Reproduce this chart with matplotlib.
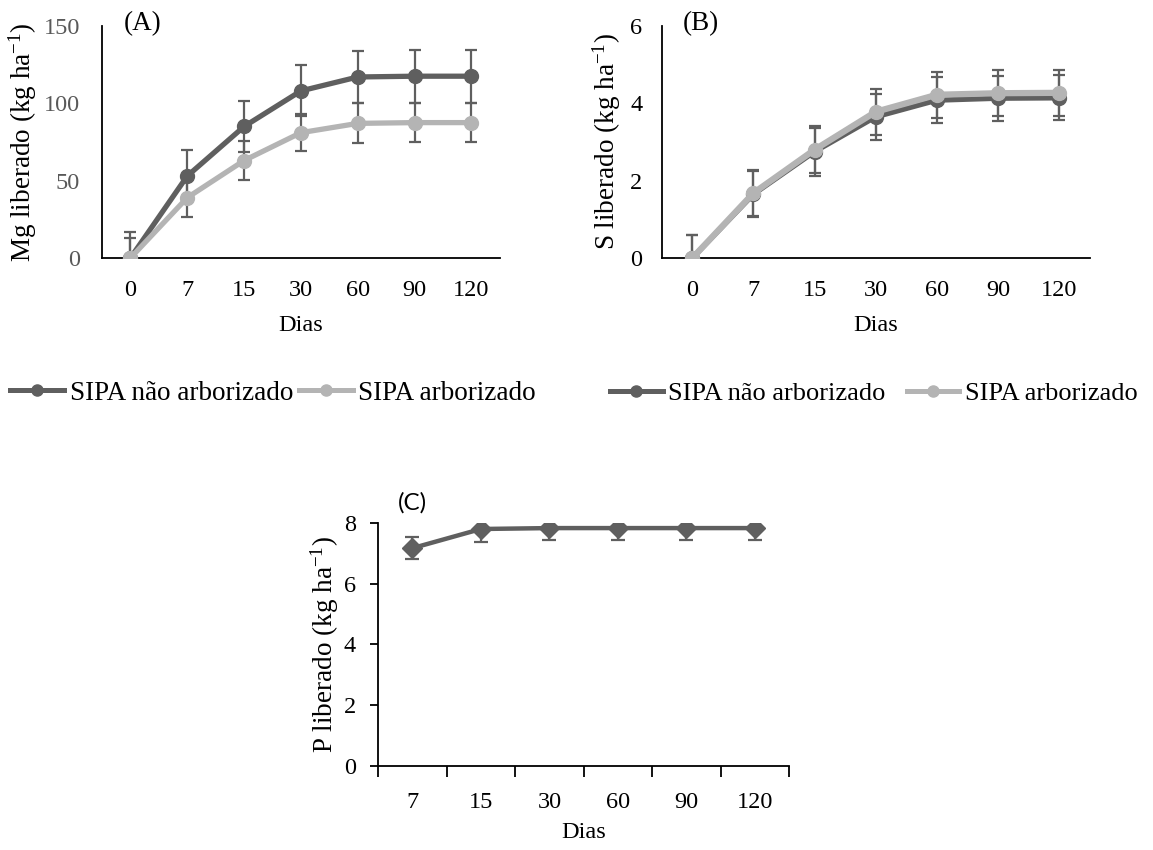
import matplotlib
matplotlib.use('Agg')
import matplotlib.pyplot as plt
from matplotlib.lines import Line2D
import numpy as np

plt.rcParams['font.family'] = ['Liberation Serif', 'DejaVu Serif']
plt.rcParams['mathtext.fontset'] = 'custom'
plt.rcParams['mathtext.rm'] = 'Liberation Serif'
plt.rcParams['mathtext.it'] = 'Liberation Serif:italic'

# dados
dias = ['0', '7', '15', '30', '60', '90', '120']
mg_nao = [0, 53, 85, 108, 117, 117.5, 117.5]
mg_nao_err = [16.5, 16.5, 16.5, 16.5, 16.5, 17, 17]
mg_arb = [0, 39, 63, 81, 87, 87.5, 87.5]
mg_arb_err = [13, 12.5, 12.5, 12, 13, 12.5, 12.5]

s_nao = [0, 1.65, 2.75, 3.65, 4.08, 4.13, 4.14]
s_nao_err = [0.6, 0.6, 0.62, 0.6, 0.6, 0.58, 0.58]
s_arb = [0, 1.68, 2.8, 3.78, 4.22, 4.26, 4.27]
s_arb_err = [0.6, 0.6, 0.6, 0.6, 0.6, 0.6, 0.6]

dias_p = ['7', '15', '30', '60', '90', '120']
p_lib = [7.17, 7.8, 7.83, 7.83, 7.83, 7.83]
p_err = [0.37, 0.42, 0.4, 0.4, 0.4, 0.4]

series_names = ['SIPA não arborizado', 'SIPA arborizado']

DARK = '#5f5f5f'
LIGHT = '#b4b4b4'
FS = 17.5   # ticks / eixo x
FL = 19.5   # legenda / eixo y


def draw_pair(ax, y1, e1, y2, e2, lw2, ypad):
    x = np.arange(len(dias))
    ax.errorbar(x, y1, yerr=e1, fmt='none', ecolor=DARK, elinewidth=1.6,
                capsize=4, capthick=1.6, zorder=1)
    ax.errorbar(x, y2, yerr=e2, fmt='none', ecolor=DARK, elinewidth=1.6,
                capsize=4, capthick=1.6, zorder=1)
    ax.plot(x, y1, color=DARK, lw=3.8, marker='o', ms=10, zorder=3)
    ax.plot(x, y2, color=LIGHT, lw=lw2, marker='o', ms=10, zorder=4)
    ax.set_xlim(-0.5, len(dias) - 0.5)
    ax.set_xticks(x)
    ax.set_xticklabels(dias)
    ax.tick_params(axis='both', length=0, labelsize=FS)
    ax.tick_params(axis='x', pad=16)
    ax.tick_params(axis='y', pad=ypad)
    for s in ['top', 'right']:
        ax.spines[s].set_visible(False)
    for s in ['left', 'bottom']:
        ax.spines[s].set_linewidth(1.3)
    ax.set_xlabel('Dias', fontsize=FS, labelpad=10)


fig = plt.figure(figsize=(11.53, 8.5), dpi=100)

# (A) Mg
axA = fig.add_axes([0.0885, 0.6965, 0.345, 0.273])
draw_pair(axA, mg_nao, mg_nao_err, mg_arb, mg_arb_err, 3.8, 16)
axA.set_ylim(0, 150)
axA.set_yticks([0, 50, 100, 150])
axA.tick_params(axis='y', labelcolor='#595959')
axA.set_ylabel(r'Mg liberado (kg ha$^{\mathrm{-1}}$)', fontsize=FL, labelpad=3)
fig.text(124 / 1153, 1 - 24 / 850, '(A)', fontsize=FL, va='center', ha='left')

# (B) S
axB = fig.add_axes([0.574, 0.6965, 0.371, 0.273])
draw_pair(axB, s_nao, s_nao_err, s_arb, s_arb_err, 4.5, 14)
axB.set_ylim(0, 6)
axB.set_yticks([0, 2, 4, 6])
axB.set_ylabel(r'S liberado (kg ha$^{\mathrm{-1}}$)', fontsize=FL, labelpad=5)
fig.text(683 / 1153, 1 - 24 / 850, '(B)', fontsize=FL, va='center', ha='left')

# legendas
handles = [Line2D([], [], color=DARK, lw=3.6, marker='o', ms=8),
           Line2D([], [], color=LIGHT, lw=3.6, marker='o', ms=8)]
for x0, fsz, colsp in ((10 / 1153, FL, 0.22), (610 / 1153, 19.0, 0.8)):
    fig.legend(handles, series_names, loc='center left',
               bbox_to_anchor=(x0, 1 - 393 / 850), ncol=2, frameon=False,
               fontsize=fsz, handlelength=2.0, handletextpad=0.2,
               columnspacing=colsp, borderaxespad=0, borderpad=0)

# (C) P
axC = fig.add_axes([0.328, 0.0988, 0.3565, 0.286])
xp = np.arange(len(dias_p))
axC.errorbar(xp, p_lib, yerr=p_err, fmt='none', ecolor=DARK, elinewidth=1.6,
             capsize=5, capthick=1.6, zorder=1)
axC.plot(xp, p_lib, color=DARK, lw=3.2, marker='D', ms=10.5, zorder=3)
axC.set_xlim(-0.5, len(dias_p) - 0.5)
axC.set_ylim(0, 8)
axC.set_yticks([0, 2, 4, 6, 8])
axC.set_xticks(np.arange(-0.5, len(dias_p), 1.0))
axC.set_xticklabels([])
axC.set_xticks(xp, minor=True)
axC.set_xticklabels(dias_p, minor=True)
axC.tick_params(axis='x', which='major', length=8, width=1.3, direction='out')
axC.tick_params(axis='x', which='minor', length=0, pad=19, labelsize=FS)
axC.tick_params(axis='y', length=6, width=1.3, direction='out', pad=10,
                labelsize=FS)
for s in ['top', 'right']:
    axC.spines[s].set_visible(False)
for s in ['left', 'bottom']:
    axC.spines[s].set_linewidth(1.3)
axC.set_xlabel('Dias', fontsize=FS, labelpad=6)
axC.set_ylabel(r'P liberado (kg ha$^{\mathrm{-1}}$)', fontsize=FL, labelpad=2)
fig.text(398 / 1153, 1 - 503 / 850, '(C)', fontsize=FS, va='center', ha='left',
         family=['Lato', 'DejaVu Sans'])

fig.savefig('out.png', dpi=100)
